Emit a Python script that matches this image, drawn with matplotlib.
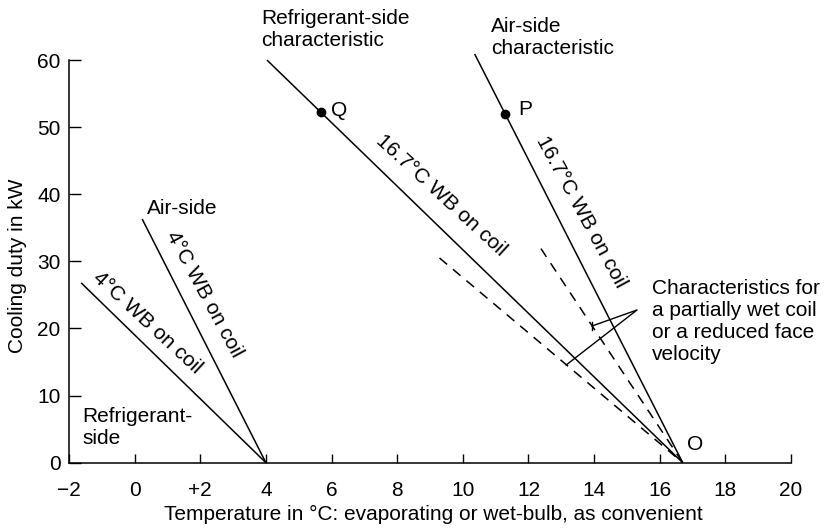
import matplotlib
matplotlib.use("Agg")
import matplotlib.pyplot as plt
import numpy as np

plt.rcParams['font.family'] = ['Liberation Sans', 'DejaVu Sans']

# ---- data ----
x_ticks = [-2, 0, 2, 4, 6, 8, 10, 12, 14, 16, 18, 20]
x_tick_labels = ['\u22122', '0', '+2', '4', '6', '8', '10', '12', '14', '16', '18', '20']
y_ticks = [0, 10, 20, 30, 40, 50, 60]

# solid characteristic lines: (x_start, y_start) -> (x_end, y_end)
ref4_x = [-1.63, 4.0]
ref4_y = [26.8, 0.0]
air4_x = [0.23, 4.0]
air4_y = [36.3, 0.0]
ref167_x = [4.03, 16.7]
ref167_y = [60.0, 0.0]
air167_x = [10.36, 16.7]
air167_y = [60.9, 0.0]

# dashed partial-wet characteristics
ref_part_x = [9.29, 16.7]
ref_part_y = [30.5, 0.0]
air_part_x = [12.38, 16.7]
air_part_y = [31.9, 0.0]

# points
Q = (5.68, 52.2)
P = (11.29, 51.9)

# callout lines
callout_apex = (15.31, 22.76)
callout_upper = (13.94, 20.37)
callout_lower = (13.15, 14.56)

fig = plt.figure(figsize=(8.32, 5.30), dpi=100)
ax = fig.add_axes([69 / 832, 67.3 / 530, 722 / 832, 402.7 / 530])
ax.set_xlim(-2, 20)
ax.set_ylim(0, 60)
for s in ['top', 'right']:
    ax.spines[s].set_visible(False)
for s in ['left', 'bottom']:
    ax.spines[s].set_linewidth(1.1)

ax.set_xticks(x_ticks)
ax.set_xticklabels(x_tick_labels)
ax.set_yticks(y_ticks)
ax.tick_params(axis='x', direction='in', length=6.5, width=1.0, pad=13, labelsize=15)
ax.tick_params(axis='y', direction='in', length=8.5, width=1.0, pad=6, labelsize=15)

lw = 1.1
for xs, ys in [(ref4_x, ref4_y), (air4_x, air4_y), (ref167_x, ref167_y), (air167_x, air167_y)]:
    ax.plot(xs, ys, color='black', lw=lw, clip_on=False, solid_capstyle='butt')
for xs, ys in [(ref_part_x, ref_part_y), (air_part_x, air_part_y)]:
    ax.plot(xs, ys, color='black', lw=lw, dashes=(6.5, 5), clip_on=False)

ax.plot([Q[0], P[0]], [Q[1], P[1]], 'o', color='black', ms=6, clip_on=False)

# callout
ax.plot([callout_upper[0], callout_apex[0], callout_lower[0]],
        [callout_upper[1], callout_apex[1], callout_lower[1]], color='black', lw=1.0)
ax.plot([callout_upper[0], callout_upper[0]], [19.8, 21.0], color='black', lw=1.0)


def screen_angle(xs, ys):
    p = ax.transData.transform(np.column_stack([xs, ys]))
    return np.degrees(np.arctan2(p[1, 1] - p[0, 1], p[1, 0] - p[0, 0]))


fs = 15
lab = dict(ha='center', va='center', rotation_mode='anchor', fontsize=fs)
ax.text(0.39, 20.9, '4°C WB on coil', rotation=screen_angle(ref4_x, ref4_y) + 1.5, **lab)
ax.text(2.12, 25.1, '4°C WB on coil', rotation=screen_angle(air4_x, air4_y) + 1.5, **lab)
ax.text(9.34, 39.9, '16.7°C WB on coil', rotation=screen_angle(ref167_x, ref167_y) + 1.5, **lab)
ax.text(13.61, 37.3, '16.7°C WB on coil', rotation=screen_angle(air167_x, air167_y) + 1.5, **lab)

# plain labels in pixel coords
def ftext(px, py, s, **kw):
    fig.text(px / 832, 1 - py / 530, s, fontsize=fs, **kw)

ftext(261, 30, 'Refrigerant-side\ncharacteristic', ha='left', va='center', linespacing=1.2)
ftext(491, 37, 'Air-side\ncharacteristic', ha='left', va='center', linespacing=1.2)
ftext(147, 208, 'Air-side', ha='left', va='center')
ftext(82, 427, 'Refrigerant-\nside', ha='left', va='center', linespacing=1.2)
ftext(652, 321, 'Characteristics for\na partially wet coil\nor a reduced face\nvelocity',
      ha='left', va='center', linespacing=1.2)
ftext(339, 110, 'Q', ha='center', va='center')
ftext(525, 109, 'P', ha='center', va='center')
ftext(695, 444, 'O', ha='center', va='center')

ftext(433, 514, 'Temperature in °C: evaporating or wet-bulb, as convenient', ha='center', va='center')
ftext(18, 266, 'Cooling duty in kW', ha='center', va='center', rotation=90)

fig.savefig('out.png', dpi=100)
